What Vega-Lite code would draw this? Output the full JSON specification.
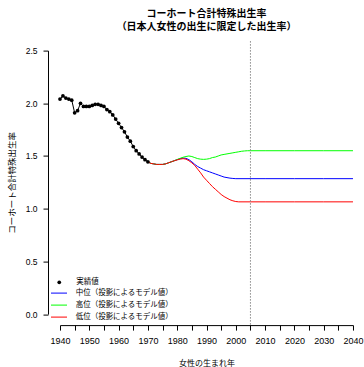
{
  "$schema": "https://vega.github.io/schema/vega-lite/v6.json",
  "width": 293,
  "height": 263.5,
  "autosize": "none",
  "padding": {"left": 60, "top": 50.6, "right": 11, "bottom": 53},
  "title": {
    "text": ["コーホート合計特殊出生率", "（日本人女性の出生に限定した出生率）"],
    "font": "Noto Sans CJK JP",
    "fontSize": 10,
    "fontWeight": "bold",
    "color": "black",
    "anchor": "middle",
    "offset": 7.5,
    "lineHeight": 13.5
  },
  "datasets": {
    "actual": [
      {"year": 1940, "value": 2.04, "kind": "実績値"},
      {"year": 1941, "value": 2.07, "kind": "実績値"},
      {"year": 1942, "value": 2.05, "kind": "実績値"},
      {"year": 1943, "value": 2.04, "kind": "実績値"},
      {"year": 1944, "value": 2.03, "kind": "実績値"},
      {"year": 1945, "value": 1.91, "kind": "実績値"},
      {"year": 1946, "value": 1.93, "kind": "実績値"},
      {"year": 1947, "value": 2.0, "kind": "実績値"},
      {"year": 1948, "value": 1.97, "kind": "実績値"},
      {"year": 1949, "value": 1.97, "kind": "実績値"},
      {"year": 1950, "value": 1.97, "kind": "実績値"},
      {"year": 1951, "value": 1.98, "kind": "実績値"},
      {"year": 1952, "value": 1.99, "kind": "実績値"},
      {"year": 1953, "value": 1.99, "kind": "実績値"},
      {"year": 1954, "value": 1.98, "kind": "実績値"},
      {"year": 1955, "value": 1.97, "kind": "実績値"},
      {"year": 1956, "value": 1.94, "kind": "実績値"},
      {"year": 1957, "value": 1.92, "kind": "実績値"},
      {"year": 1958, "value": 1.89, "kind": "実績値"},
      {"year": 1959, "value": 1.85, "kind": "実績値"},
      {"year": 1960, "value": 1.81, "kind": "実績値"},
      {"year": 1961, "value": 1.77, "kind": "実績値"},
      {"year": 1962, "value": 1.73, "kind": "実績値"},
      {"year": 1963, "value": 1.68, "kind": "実績値"},
      {"year": 1964, "value": 1.64, "kind": "実績値"},
      {"year": 1965, "value": 1.59, "kind": "実績値"},
      {"year": 1966, "value": 1.55, "kind": "実績値"},
      {"year": 1967, "value": 1.52, "kind": "実績値"},
      {"year": 1968, "value": 1.49, "kind": "実績値"},
      {"year": 1969, "value": 1.465, "kind": "実績値"},
      {"year": 1970, "value": 1.445, "kind": "実績値"}
    ],
    "proj": [
      {"series": "中位（投影によるモデル値）", "year": 1970, "value": 1.445},
      {"series": "中位（投影によるモデル値）", "year": 1971, "value": 1.43},
      {"series": "中位（投影によるモデル値）", "year": 1972, "value": 1.425},
      {"series": "中位（投影によるモデル値）", "year": 1973, "value": 1.42},
      {"series": "中位（投影によるモデル値）", "year": 1974, "value": 1.42},
      {"series": "中位（投影によるモデル値）", "year": 1975, "value": 1.42},
      {"series": "中位（投影によるモデル値）", "year": 1976, "value": 1.425},
      {"series": "中位（投影によるモデル値）", "year": 1977, "value": 1.435},
      {"series": "中位（投影によるモデル値）", "year": 1978, "value": 1.445},
      {"series": "中位（投影によるモデル値）", "year": 1979, "value": 1.455},
      {"series": "中位（投影によるモデル値）", "year": 1980, "value": 1.465},
      {"series": "中位（投影によるモデル値）", "year": 1981, "value": 1.475},
      {"series": "中位（投影によるモデル値）", "year": 1982, "value": 1.48},
      {"series": "中位（投影によるモデル値）", "year": 1983, "value": 1.478},
      {"series": "中位（投影によるモデル値）", "year": 1984, "value": 1.465},
      {"series": "中位（投影によるモデル値）", "year": 1985, "value": 1.445},
      {"series": "中位（投影によるモデル値）", "year": 1986, "value": 1.42},
      {"series": "中位（投影によるモデル値）", "year": 1987, "value": 1.4},
      {"series": "中位（投影によるモデル値）", "year": 1988, "value": 1.385},
      {"series": "中位（投影によるモデル値）", "year": 1989, "value": 1.37},
      {"series": "中位（投影によるモデル値）", "year": 1990, "value": 1.36},
      {"series": "中位（投影によるモデル値）", "year": 1991, "value": 1.35},
      {"series": "中位（投影によるモデル値）", "year": 1992, "value": 1.34},
      {"series": "中位（投影によるモデル値）", "year": 1993, "value": 1.33},
      {"series": "中位（投影によるモデル値）", "year": 1994, "value": 1.32},
      {"series": "中位（投影によるモデル値）", "year": 1995, "value": 1.31},
      {"series": "中位（投影によるモデル値）", "year": 1996, "value": 1.3},
      {"series": "中位（投影によるモデル値）", "year": 1997, "value": 1.295},
      {"series": "中位（投影によるモデル値）", "year": 1998, "value": 1.29},
      {"series": "中位（投影によるモデル値）", "year": 1999, "value": 1.287},
      {"series": "中位（投影によるモデル値）", "year": 2000, "value": 1.285},
      {"series": "中位（投影によるモデル値）", "year": 2010, "value": 1.285},
      {"series": "中位（投影によるモデル値）", "year": 2020, "value": 1.285},
      {"series": "中位（投影によるモデル値）", "year": 2030, "value": 1.285},
      {"series": "中位（投影によるモデル値）", "year": 2040, "value": 1.285},
      {"series": "高位（投影によるモデル値）", "year": 1970, "value": 1.445},
      {"series": "高位（投影によるモデル値）", "year": 1971, "value": 1.43},
      {"series": "高位（投影によるモデル値）", "year": 1972, "value": 1.425},
      {"series": "高位（投影によるモデル値）", "year": 1973, "value": 1.42},
      {"series": "高位（投影によるモデル値）", "year": 1974, "value": 1.42},
      {"series": "高位（投影によるモデル値）", "year": 1975, "value": 1.42},
      {"series": "高位（投影によるモデル値）", "year": 1976, "value": 1.425},
      {"series": "高位（投影によるモデル値）", "year": 1977, "value": 1.435},
      {"series": "高位（投影によるモデル値）", "year": 1978, "value": 1.445},
      {"series": "高位（投影によるモデル値）", "year": 1979, "value": 1.455},
      {"series": "高位（投影によるモデル値）", "year": 1980, "value": 1.467},
      {"series": "高位（投影によるモデル値）", "year": 1981, "value": 1.478},
      {"series": "高位（投影によるモデル値）", "year": 1982, "value": 1.488},
      {"series": "高位（投影によるモデル値）", "year": 1983, "value": 1.495},
      {"series": "高位（投影によるモデル値）", "year": 1984, "value": 1.5},
      {"series": "高位（投影によるモデル値）", "year": 1985, "value": 1.495},
      {"series": "高位（投影によるモデル値）", "year": 1986, "value": 1.485},
      {"series": "高位（投影によるモデル値）", "year": 1987, "value": 1.475},
      {"series": "高位（投影によるモデル値）", "year": 1988, "value": 1.47},
      {"series": "高位（投影によるモデル値）", "year": 1989, "value": 1.468},
      {"series": "高位（投影によるモデル値）", "year": 1990, "value": 1.47},
      {"series": "高位（投影によるモデル値）", "year": 1991, "value": 1.475},
      {"series": "高位（投影によるモデル値）", "year": 1992, "value": 1.485},
      {"series": "高位（投影によるモデル値）", "year": 1993, "value": 1.49},
      {"series": "高位（投影によるモデル値）", "year": 1994, "value": 1.5},
      {"series": "高位（投影によるモデル値）", "year": 1995, "value": 1.51},
      {"series": "高位（投影によるモデル値）", "year": 1996, "value": 1.515},
      {"series": "高位（投影によるモデル値）", "year": 1997, "value": 1.52},
      {"series": "高位（投影によるモデル値）", "year": 1998, "value": 1.525},
      {"series": "高位（投影によるモデル値）", "year": 1999, "value": 1.53},
      {"series": "高位（投影によるモデル値）", "year": 2000, "value": 1.535},
      {"series": "高位（投影によるモデル値）", "year": 2001, "value": 1.54},
      {"series": "高位（投影によるモデル値）", "year": 2002, "value": 1.545},
      {"series": "高位（投影によるモデル値）", "year": 2003, "value": 1.548},
      {"series": "高位（投影によるモデル値）", "year": 2004, "value": 1.55},
      {"series": "高位（投影によるモデル値）", "year": 2010, "value": 1.55},
      {"series": "高位（投影によるモデル値）", "year": 2020, "value": 1.55},
      {"series": "高位（投影によるモデル値）", "year": 2030, "value": 1.55},
      {"series": "高位（投影によるモデル値）", "year": 2040, "value": 1.55},
      {"series": "低位（投影によるモデル値）", "year": 1970, "value": 1.445},
      {"series": "低位（投影によるモデル値）", "year": 1971, "value": 1.43},
      {"series": "低位（投影によるモデル値）", "year": 1972, "value": 1.425},
      {"series": "低位（投影によるモデル値）", "year": 1973, "value": 1.42},
      {"series": "低位（投影によるモデル値）", "year": 1974, "value": 1.42},
      {"series": "低位（投影によるモデル値）", "year": 1975, "value": 1.42},
      {"series": "低位（投影によるモデル値）", "year": 1976, "value": 1.425},
      {"series": "低位（投影によるモデル値）", "year": 1977, "value": 1.435},
      {"series": "低位（投影によるモデル値）", "year": 1978, "value": 1.445},
      {"series": "低位（投影によるモデル値）", "year": 1979, "value": 1.455},
      {"series": "低位（投影によるモデル値）", "year": 1980, "value": 1.463},
      {"series": "低位（投影によるモデル値）", "year": 1981, "value": 1.47},
      {"series": "低位（投影によるモデル値）", "year": 1982, "value": 1.475},
      {"series": "低位（投影によるモデル値）", "year": 1983, "value": 1.47},
      {"series": "低位（投影によるモデル値）", "year": 1984, "value": 1.455},
      {"series": "低位（投影によるモデル値）", "year": 1985, "value": 1.435},
      {"series": "低位（投影によるモデル値）", "year": 1986, "value": 1.41},
      {"series": "低位（投影によるモデル値）", "year": 1987, "value": 1.375},
      {"series": "低位（投影によるモデル値）", "year": 1988, "value": 1.34},
      {"series": "低位（投影によるモデル値）", "year": 1989, "value": 1.3},
      {"series": "低位（投影によるモデル値）", "year": 1990, "value": 1.27},
      {"series": "低位（投影によるモデル値）", "year": 1991, "value": 1.24},
      {"series": "低位（投影によるモデル値）", "year": 1992, "value": 1.21},
      {"series": "低位（投影によるモデル値）", "year": 1993, "value": 1.185},
      {"series": "低位（投影によるモデル値）", "year": 1994, "value": 1.16},
      {"series": "低位（投影によるモデル値）", "year": 1995, "value": 1.135},
      {"series": "低位（投影によるモデル値）", "year": 1996, "value": 1.115},
      {"series": "低位（投影によるモデル値）", "year": 1997, "value": 1.1},
      {"series": "低位（投影によるモデル値）", "year": 1998, "value": 1.085},
      {"series": "低位（投影によるモデル値）", "year": 1999, "value": 1.075},
      {"series": "低位（投影によるモデル値）", "year": 2000, "value": 1.068},
      {"series": "低位（投影によるモデル値）", "year": 2001, "value": 1.065},
      {"series": "低位（投影によるモデル値）", "year": 2010, "value": 1.065},
      {"series": "低位（投影によるモデル値）", "year": 2020, "value": 1.065},
      {"series": "低位（投影によるモデル値）", "year": 2030, "value": 1.065},
      {"series": "低位（投影によるモデル値）", "year": 2040, "value": 1.065}
    ],
    "marker": [{"year": 2005, "lo": -0.1, "hi": 2.6}]
  },
  "encoding": {
    "x": {
      "field": "year",
      "type": "quantitative",
      "scale": {"domain": [1940, 2040], "nice": false, "zero": false},
      "axis": {
        "title": "女性の生まれ年",
        "values": [1940, 1945, 1950, 1955, 1960, 1965, 1970, 1975, 1980, 1985, 1990, 1995, 2000, 2005, 2010, 2015, 2020, 2025, 2030, 2035, 2040],
        "format": "d",
        "labelExpr": "datum.value % 10 === 0 ? datum.label : ''",
        "labelOverlap": false,
        "labelFlush": false,
        "offset": 11,
        "labelFontSize": 9,
        "labelPadding": 6,
        "titleFontSize": 8,
        "titlePadding": 14
      }
    },
    "y": {
      "field": "value",
      "type": "quantitative",
      "scale": {"domain": [0, 2.5], "nice": false, "zero": false},
      "axis": {
        "title": "コーホート合計特殊出生率",
        "values": [0, 0.5, 1, 1.5, 2, 2.5],
        "format": ".1f",
        "labelFlush": false,
        "labelOverlap": false,
        "offset": 12,
        "labelFontSize": 8.5,
        "labelPadding": 6,
        "titleFontSize": 8.5,
        "titlePadding": 9
      }
    }
  },
  "layer": [
    {
      "data": {"name": "proj"},
      "mark": {"type": "line", "strokeWidth": 1},
      "encoding": {
        "color": {
          "field": "series",
          "type": "nominal",
          "scale": {
            "domain": ["中位（投影によるモデル値）", "高位（投影によるモデル値）", "低位（投影によるモデル値）"],
            "range": ["#0000ff", "#00ff00", "#ff0000"]
          },
          "legend": {
            "orient": "none",
            "legendX": -9.5,
            "legendY": 234,
            "title": null,
            "symbolType": "stroke",
            "symbolSize": 256,
            "symbolStrokeWidth": 1,
            "labelFont": "Noto Sans CJK JP",
            "labelFontSize": 7.5,
            "labelColor": "black",
            "labelOffset": 8.2,
            "rowPadding": -6.5,
            "padding": 0
          }
        }
      }
    },
    {
      "data": {"name": "actual"},
      "mark": {"type": "line", "color": "black", "strokeWidth": 1},
      "encoding": {}
    },
    {
      "data": {"name": "actual"},
      "mark": {"type": "point", "filled": true, "color": "black", "opacity": 1, "size": 14},
      "encoding": {
        "shape": {
          "field": "kind",
          "type": "nominal",
          "scale": {"domain": ["実績値"], "range": ["circle"]},
          "legend": {
            "orient": "none",
            "legendX": -4.5,
            "legendY": 228,
            "title": null,
            "symbolSize": 14,
            "symbolFillColor": "black",
            "symbolStrokeColor": "black",
            "symbolStrokeWidth": 0,
            "labelFont": "Noto Sans CJK JP",
            "labelFontSize": 7.5,
            "labelColor": "black",
            "labelOffset": 13.2,
            "padding": 0
          }
        }
      }
    },
    {
      "data": {"name": "marker"},
      "mark": {"type": "rule", "color": "#888888", "strokeWidth": 1, "strokeDash": [1.5, 1.5]},
      "encoding": {
        "y": {"field": "lo", "type": "quantitative", "scale": {"domain": [0, 2.5], "nice": false, "zero": false}},
        "y2": {"field": "hi"}
      }
    }
  ],
  "config": {
    "view": {"stroke": null},
    "font": "Liberation Sans",
    "axis": {
      "grid": false,
      "domainColor": "black",
      "domainWidth": 1,
      "tickColor": "black",
      "tickWidth": 1,
      "tickSize": 5,
      "labelColor": "black",
      "labelFont": "Liberation Sans",
      "titleColor": "black",
      "titleFont": "Noto Sans CJK JP",
      "titleFontWeight": "normal"
    }
  }
}
